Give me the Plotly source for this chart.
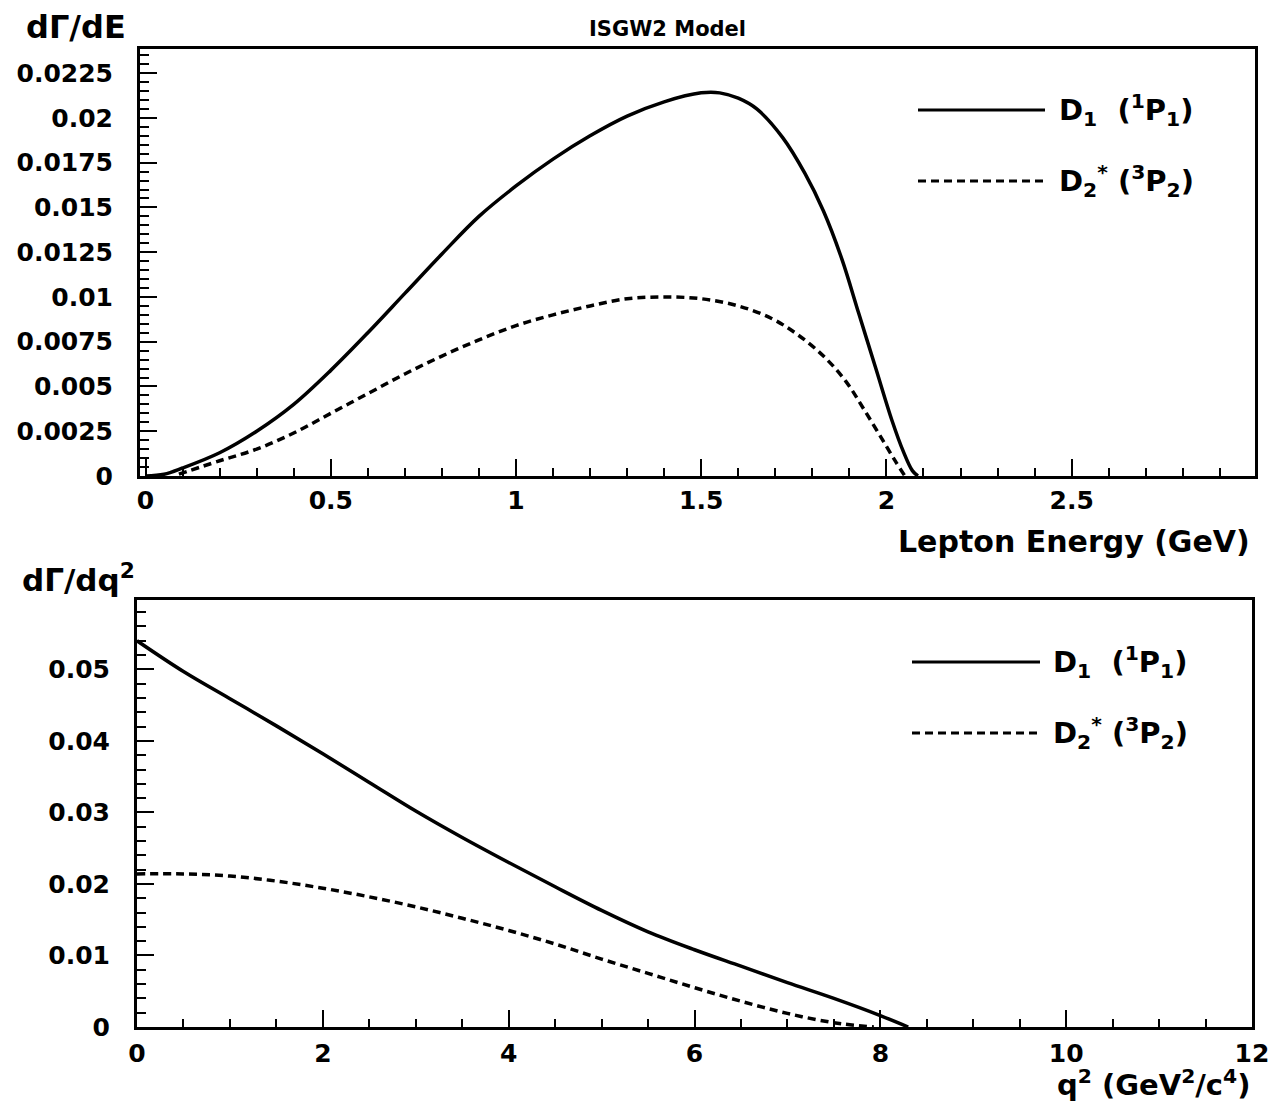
import plotly.graph_objects as go

# ---------------- data ----------------
energy_d1 = [0.0, 0.05, 0.1, 0.2, 0.3, 0.4, 0.5, 0.6, 0.7, 0.8, 0.9, 1.0, 1.1, 1.2, 1.3, 1.4,
             1.5, 1.55, 1.6, 1.65, 1.72, 1.78, 1.83, 1.88, 1.925, 1.97, 2.015, 2.045, 2.07, 2.085]
dgde_d1 = [0.0, 0.0001, 0.00045, 0.0013, 0.0025, 0.0040, 0.0059, 0.0080, 0.0102, 0.0124, 0.0145,
           0.0162, 0.0177, 0.0190, 0.0201, 0.0209, 0.0214, 0.0214, 0.0211, 0.0205, 0.0189, 0.0169,
           0.0148, 0.0121, 0.0091, 0.0061, 0.0031, 0.0014, 0.0003, 0.0]

energy_d2 = [0.09, 0.2, 0.3, 0.4, 0.5, 0.6, 0.7, 0.8, 0.9, 1.0, 1.1, 1.2, 1.3, 1.4, 1.5, 1.6,
             1.69, 1.76, 1.83, 1.89, 1.94, 1.99, 2.025, 2.05]
dgde_d2 = [0.0001, 0.00085, 0.0015, 0.0024, 0.0035, 0.0046, 0.0057, 0.0067, 0.0076, 0.0084, 0.0090,
           0.0095, 0.0099, 0.0100, 0.0099, 0.0095, 0.0088, 0.0079, 0.0067, 0.0053, 0.0037, 0.0020,
           0.0008, 0.0]

q2_d1 = [0, 0.5, 1, 1.5, 2, 2.5, 3, 3.5, 4, 4.5, 5, 5.5, 6, 6.5, 7, 7.5, 8, 8.3]
dgdq2_d1 = [0.0540, 0.0497, 0.0459, 0.0421, 0.0382, 0.0342, 0.0302, 0.0265, 0.0230, 0.0196,
            0.0163, 0.0133, 0.0108, 0.0085, 0.0062, 0.0040, 0.0016, 0.0]

q2_d2 = [0, 0.5, 1, 1.5, 2, 2.5, 3, 3.5, 4, 4.5, 5, 5.5, 6, 6.5, 7, 7.5, 7.93]
dgdq2_d2 = [0.0214, 0.0214, 0.0211, 0.0204, 0.0194, 0.0182, 0.0168, 0.0152, 0.0135, 0.0116,
            0.0095, 0.0075, 0.0055, 0.0036, 0.0019, 0.0006, 0.0]

title_text = "ISGW2 Model"
top_ylabel = "dΓ/dE"
bot_ylabel = "dΓ/dq<sup>2</sup>"
top_xlabel = "Lepton Energy (GeV)"
bot_xlabel = "q<sup>2</sup> (GeV<sup>2</sup>/c<sup>4</sup>)"
leg_d1 = "D<sub>1</sub>\u00a0\u00a0(<sup>1</sup>P<sub>1</sub>)"
leg_d2 = "D<sub>2</sub><sup>*</sup>\u00a0(<sup>3</sup>P<sub>2</sub>)"

# ---------------- layout helpers ----------------
OFF = 8                      # page body margin
W, H = 1283 - 2 * OFF, 1114 - 2 * OFF
FONT = "DejaVu Sans"


def px(x):
    return (x - OFF) / W


def py(y):
    return 1 - (y - OFF) / H


DASH = "8px,5px"
LW = 3.5

fig = go.Figure()
fig.add_trace(go.Scatter(x=energy_d1, y=dgde_d1, mode="lines", line=dict(color="black", width=LW),
                         xaxis="x", yaxis="y", showlegend=False, line_shape="spline"))
fig.add_trace(go.Scatter(x=energy_d2, y=dgde_d2, mode="lines",
                         line=dict(color="black", width=LW, dash=DASH),
                         xaxis="x", yaxis="y", showlegend=False, line_shape="spline"))
fig.add_trace(go.Scatter(x=q2_d1, y=dgdq2_d1, mode="lines", line=dict(color="black", width=LW),
                         xaxis="x2", yaxis="y2", showlegend=False, line_shape="spline"))
fig.add_trace(go.Scatter(x=q2_d2, y=dgdq2_d2, mode="lines",
                         line=dict(color="black", width=LW, dash=DASH),
                         xaxis="x2", yaxis="y2", showlegend=False, line_shape="spline"))

tickfont = dict(family=FONT, size=25, color="black", weight="bold")
common = dict(showline=True, linewidth=3, linecolor="black", mirror=True, showgrid=False,
              zeroline=False, ticks="inside", ticklen=17, tickwidth=2, tickcolor="black",
              tickfont=tickfont, automargin=False)

fig.update_layout(
    width=W, height=H,
    margin=dict(l=0, r=0, t=0, b=0),
    paper_bgcolor="white", plot_bgcolor="white",
    xaxis=dict(domain=[px(140), px(1255)], range=[-0.015, 2.995], anchor="y",
               dtick=0.5, tick0=0,
               minor=dict(ticks="inside", ticklen=8, tickwidth=2, dtick=0.1, tickcolor="black"),
               ticklabelstandoff=0, **common),
    yaxis=dict(domain=[py(476), py(49)], range=[0, 0.02385], anchor="x",
               dtick=0.0025, tick0=0,
               minor=dict(ticks="inside", ticklen=9, tickwidth=2, dtick=0.0005, tickcolor="black"),
               ticklabelstandoff=19, **common),
    xaxis2=dict(domain=[px(137), px(1252)], range=[0, 12], anchor="y2",
                dtick=2, tick0=0,
                minor=dict(ticks="inside", ticklen=8, tickwidth=2, dtick=0.5, tickcolor="black"),
                ticklabelstandoff=2, **common),
    yaxis2=dict(domain=[py(1027), py(600)], range=[0, 0.0597], anchor="x2",
                dtick=0.01, tick0=0,
                minor=dict(ticks="inside", ticklen=9, tickwidth=2, dtick=0.002, tickcolor="black"),
                ticklabelstandoff=19, **common),
)

ann = []


def text(x, y, s, size, xanchor="left", weight="bold"):
    ann.append(dict(x=px(x), y=py(y), xref="paper", yref="paper", text=s, showarrow=False,
                    xanchor=xanchor, yanchor="middle",
                    font=dict(family=FONT, size=size, color="black", weight=weight)))


text(668, 29, title_text, 21, xanchor="center")
text(24, 27, top_ylabel, 32)
text(20, 578, bot_ylabel, 31)
text(1252, 541, top_xlabel, 30, xanchor="right")
text(1252, 1083, bot_xlabel, 29, xanchor="right")

# legends
text(1057, 110, leg_d1, 29)
text(1057, 181, leg_d2, 29)
text(1051, 662, leg_d1, 29)
text(1051, 733, leg_d2, 29)
fig.update_layout(annotations=ann)

shapes = []
for (x0, x1, y, dash) in [(918, 1045, 110, "solid"), (918, 1045, 181, DASH),
                          (912, 1040, 662, "solid"), (912, 1040, 733, DASH)]:
    shapes.append(dict(type="line", xref="paper", yref="paper", x0=px(x0), x1=px(x1),
                       y0=py(y), y1=py(y), line=dict(color="black", width=3, dash=dash)))
fig.update_layout(shapes=shapes)

fig.write_html("out.html")
